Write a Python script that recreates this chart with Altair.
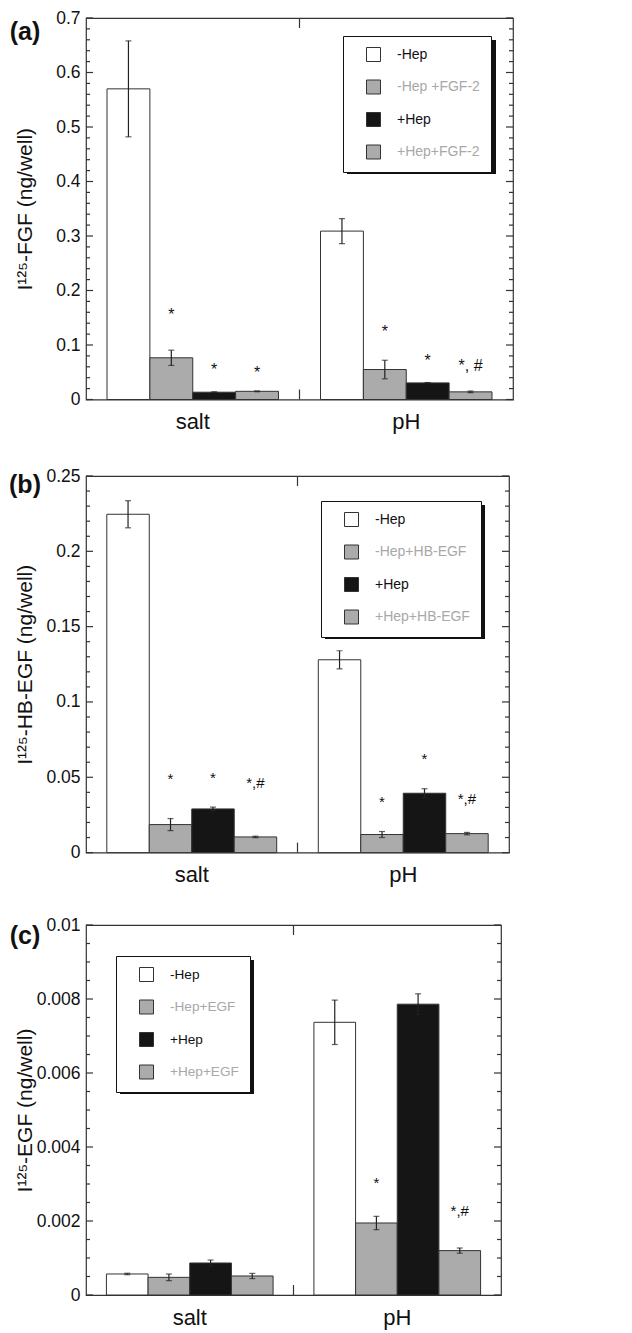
import altair as alt
import pandas as pd

FONT = "Liberation Sans"

groups = ["salt", "pH"]
panel_labels = ["(a)", "(b)", "(c)"]

# ---- panel (a)
conds_a = ["-Hep", "-Hep +FGF-2", "+Hep", "+Hep+FGF-2"]
a_salt = [0.570, 0.0765, 0.0134, 0.015]
a_salt_err = [0.088, 0.014, 0.0008, 0.0008]
a_ph = [0.309, 0.055, 0.0305, 0.014]
a_ph_err = [0.023, 0.017, 0.0006, 0.0015]
a_salt_sig = ["", "*", "*", "*"]
a_salt_sig_y = [0, 0.155, 0.054, 0.048]
a_ph_sig = ["", "*", "*", "*, #"]
a_ph_sig_y = [0, 0.123, 0.070, 0.062]
a_major = [0, 0.1, 0.2, 0.3, 0.4, 0.5, 0.6, 0.7]
a_minor = [0.02, 0.04, 0.06, 0.08, 0.12, 0.14, 0.16, 0.18, 0.22, 0.24, 0.26, 0.28,
           0.32, 0.34, 0.36, 0.38, 0.42, 0.44, 0.46, 0.48, 0.52, 0.54, 0.56, 0.58,
           0.62, 0.64, 0.66, 0.68]

# ---- panel (b)
conds_b = ["-Hep", "-Hep+HB-EGF", "+Hep", "+Hep+HB-EGF"]
b_salt = [0.2246, 0.0186, 0.029, 0.0104]
b_salt_err = [0.009, 0.004, 0.0012, 0.0005]
b_ph = [0.128, 0.012, 0.0394, 0.0126]
b_ph_err = [0.006, 0.002, 0.003, 0.0008]
b_salt_sig = ["", "*", "*", "*,#"]
b_salt_sig_y = [0, 0.049, 0.0497, 0.046]
b_ph_sig = ["", "*", "*", "*,#"]
b_ph_sig_y = [0, 0.0337, 0.0623, 0.0355]
b_major = [0, 0.05, 0.1, 0.15, 0.2, 0.25]
b_minor = [0.01, 0.02, 0.03, 0.04, 0.06, 0.07, 0.08, 0.09, 0.11, 0.12, 0.13, 0.14,
           0.16, 0.17, 0.18, 0.19, 0.21, 0.22, 0.23, 0.24]

# ---- panel (c)
conds_c = ["-Hep", "-Hep+EGF", "+Hep", "+Hep+EGF"]
c_salt = [0.000568, 0.000477, 0.000865, 0.000514]
c_salt_err = [0.00002, 0.00009, 0.00008, 0.00007]
c_ph = [0.00737, 0.001946, 0.00786, 0.0012]
c_ph_err = [0.0006, 0.00018, 0.00028, 0.00007]
c_salt_sig = ["", "", "", ""]
c_salt_sig_y = [0, 0, 0, 0]
c_ph_sig = ["", "*", "", "*,#"]
c_ph_sig_y = [0, 0.00304, 0, 0.00226]
c_major = [0, 0.002, 0.004, 0.006, 0.008, 0.01]
c_minor = [0.0005, 0.001, 0.0015, 0.0025, 0.003, 0.0035, 0.0045, 0.005, 0.0055,
           0.0065, 0.007, 0.0075, 0.0085, 0.009, 0.0095]

fills = ["#ffffff", "#ababab", "#151515", "#ababab"]
EDGE = "#333333"


def panel(label, conds, salt, salt_err, ph, ph_err, ssig, ssig_y, psig, psig_y,
          ymax, major, minor, title, W, H, lx, ly, shadow_wh, label_y, sig_size, leg_font):
    rows = []
    for g, vals, errs, sigs, sigy in [("salt", salt, salt_err, ssig, ssig_y),
                                      ("pH", ph, ph_err, psig, psig_y)]:
        for c, v, e, s, sy in zip(conds, vals, errs, sigs, sigy):
            rows.append(dict(group=g, cond=c, value=v, lo=v - e, hi=v + e, sig=s, sig_y=sy))
    df = pd.DataFrame(rows)

    xs = alt.Scale(domain=groups, paddingInner=0, paddingOuter=0)
    ys = alt.Scale(domain=[0, ymax], nice=False, zero=True)
    xo = alt.XOffset("cond:N", sort=conds, scale=alt.Scale(domain=conds, paddingInner=0, paddingOuter=0.49))
    X = alt.X("group:N", sort=groups, scale=xs,
              axis=alt.Axis(title=None, labelAngle=0, labelFontSize=22, labelPadding=12,
                            ticks=False, tickSize=0, domain=False, labelColor="#111",
                            labelFont=FONT))
    Xn = alt.X("group:N", sort=groups, scale=xs, axis=None)

    base = alt.Chart(df)
    bars = base.mark_bar(stroke=EDGE, strokeWidth=1).encode(
        x=X, xOffset=xo,
        y=alt.Y("value:Q", scale=ys,
                axis=alt.Axis(values=major, format="~g", title=title, ticks=False, tickSize=0,
                              domain=False, grid=False, labelFontSize=17.5, labelPadding=6,
                              labelColor="#111", labelFont=FONT, titleFont=FONT,
                              titleFontSize=21, titleFontWeight="normal", titleColor="#111",
                              titlePadding=6, minExtent=45, maxExtent=45)),
        fill=alt.Fill("cond:N", sort=conds, scale=alt.Scale(domain=conds, range=fills),
                      legend=alt.Legend(orient="none", legendX=lx, legendY=ly, title=None,
                                        fillColor="white", strokeColor="#111", padding=11,
                                        symbolType="square", symbolSize=196,
                                        symbolStrokeColor=EDGE, symbolStrokeWidth=1,
                                        labelFontSize=leg_font, labelFont=FONT,
                                        labelColor={"expr": "indexof(['-Hep','+Hep'], datum.label) >= 0 ? '#111111' : '#a8a8a8'"},
                                        symbolOffset=12, labelOffset=16, rowPadding=13.5)),
    )
    err = base.mark_rule(color="#222", strokeWidth=1.2).encode(
        x=Xn, xOffset=xo, y=alt.Y("lo:Q", scale=ys, axis=None), y2="hi:Q")
    cap_lo = base.mark_tick(color="#222", thickness=1.2, size=6).encode(
        x=Xn, xOffset=xo, y=alt.Y("lo:Q", scale=ys, axis=None))
    cap_hi = base.mark_tick(color="#222", thickness=1.2, size=6).encode(
        x=Xn, xOffset=xo, y=alt.Y("hi:Q", scale=ys, axis=None))
    sig = base.transform_filter("datum.sig != ''").mark_text(
        fontSize=sig_size, baseline="middle", color="#111", font=FONT).encode(
        x=Xn, xOffset=xo, y=alt.Y("sig_y:Q", scale=ys, axis=None), text="sig:N")

    tdf_major = pd.DataFrame({"tick": major})
    tdf_minor = pd.DataFrame({"tick": minor})
    tY = alt.Y("tick:Q", scale=ys, axis=None)
    tk = []
    for tdf, ln in [(tdf_major, 7), (tdf_minor, 4)]:
        tk.append(alt.Chart(tdf).mark_rule(color=EDGE, strokeWidth=1.2).encode(
            y=tY, x=alt.value(0), x2=alt.value(ln)))
        tk.append(alt.Chart(tdf).mark_rule(color=EDGE, strokeWidth=1.2).encode(
            y=tY, x=alt.value(W - ln), x2=alt.value(W)))

    mid = pd.DataFrame({"group": ["pH"]})
    Xb = alt.X("group:N", sort=groups, scale=xs, axis=None, bandPosition=0)
    mid_top = alt.Chart(mid).mark_rule(color=EDGE, strokeWidth=1.2).encode(
        x=Xb, y=alt.value(0), y2=alt.value(10))
    mid_bot = alt.Chart(mid).mark_rule(color=EDGE, strokeWidth=1.2).encode(
        x=Xb, y=alt.value(H - 10), y2=alt.value(H))

    lab = alt.Chart(pd.DataFrame({"lbl": [label]})).mark_text(
        fontSize=25, fontWeight="bold", font=FONT, baseline="middle", align="center",
        color="#111").encode(text="lbl:N", x=alt.value(-61), y=alt.value(label_y))

    sw, sh = shadow_wh
    shadow = alt.Chart(pd.DataFrame({"lbl": [label]})).mark_rect(color="#111").encode(
        x=alt.value(lx + 4), x2=alt.value(lx + sw + 4),
        y=alt.value(ly + 4), y2=alt.value(ly + sh + 4))

    return alt.layer(bars, shadow, err, cap_lo, cap_hi, sig, *tk, mid_top, mid_bot, lab).resolve_axis(
        x="independent", y="independent").properties(width=W, height=H)


pa = panel(panel_labels[0], conds_a, a_salt, a_salt_err, a_ph, a_ph_err, a_salt_sig, a_salt_sig_y,
           a_ph_sig, a_ph_sig_y, 0.7, a_major, a_minor, "I¹²⁵-FGF (ng/well)",
           427, 381.5, 257, 18, (149, 134), 14, 16, 14)
pb = panel(panel_labels[1], conds_b, b_salt, b_salt_err, b_ph, b_ph_err, b_salt_sig, b_salt_sig_y,
           b_ph_sig, b_ph_sig_y, 0.25, b_major, b_minor, "I¹²⁵-HB-EGF (ng/well)",
           423, 376.6, 235, 25, (160, 134), 8.5, 15, 14)
pc = panel(panel_labels[2], conds_c, c_salt, c_salt_err, c_ph, c_ph_err, c_salt_sig, c_salt_sig_y,
           c_ph_sig, c_ph_sig_y, 0.01, c_major, c_minor, "I¹²⁵-EGF (ng/well)",
           415, 370, 30, 31, (134, 134), 11.3, 15, 13.6)

RS = dict(x="independent", y="independent", xOffset="independent", fill="independent")
inner = alt.vconcat(pa, pb, spacing=32).resolve_scale(**RS).resolve_legend(fill="independent")
chart = alt.vconcat(inner, pc, spacing=28).resolve_scale(**RS).resolve_legend(
    fill="independent").properties(
    padding={"left": 0, "top": 0, "right": 5, "bottom": 5}
).configure(font=FONT).configure_view(stroke=EDGE, strokeWidth=1.2)

chart.save("out.html", embed_options={"renderer": "svg", "actions": False})
